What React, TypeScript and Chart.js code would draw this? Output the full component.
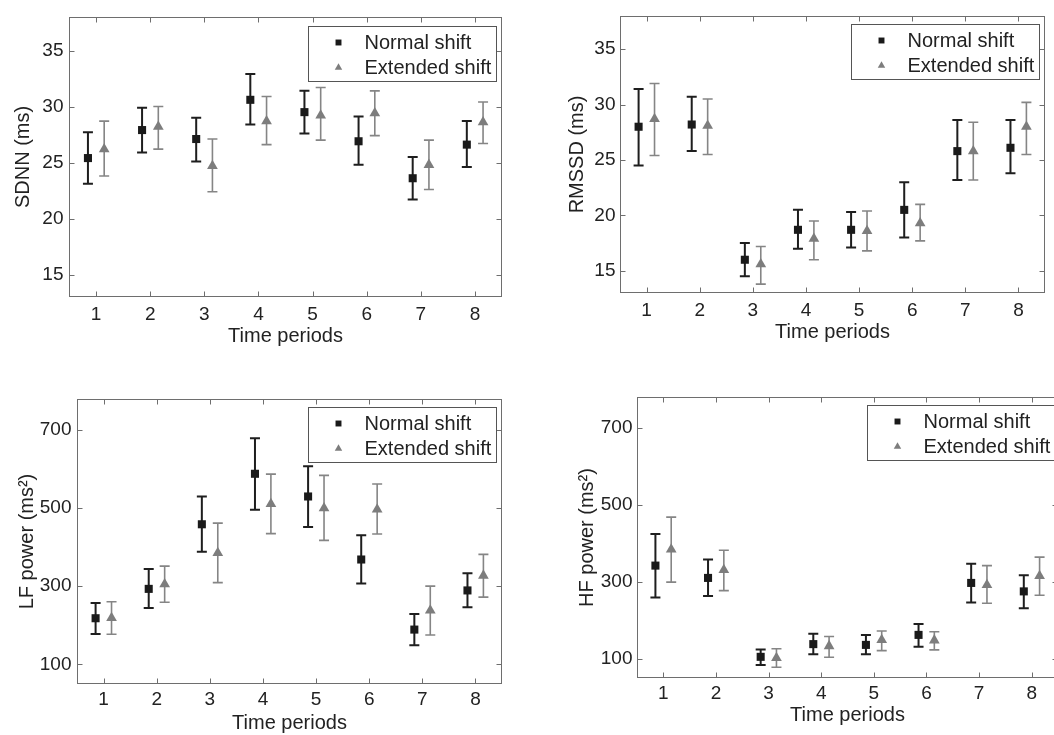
import React, { useEffect, useRef } from "react";
import { Chart, registerables } from "chart.js";
import { drawPoint } from "chart.js/helpers";

Chart.register(...registerables);

const FONT = "'Liberation Sans', Arial, Helvetica, sans-serif";
const TEXT = "#222222";
const AXIS = "#6e6e6e";

const PERIODS = [1, 2, 3, 4, 5, 6, 7, 8];
const SERIES_LABELS = ["Normal shift", "Extended shift"];
const X_TITLE = "Time periods";

// Panel A: SDNN
const SDNN_TICKS = [15, 20, 25, 30, 35];
const SDNN_NORMAL = [25.4, 27.9, 27.1, 30.6, 29.5, 26.9, 23.6, 26.6];
const SDNN_NORMAL_LOW = [23.1, 25.9, 25.1, 28.4, 27.6, 24.8, 21.7, 24.6];
const SDNN_NORMAL_HIGH = [27.7, 29.9, 29.0, 32.9, 31.4, 29.1, 25.5, 28.7];
const SDNN_EXT = [26.2, 28.2, 24.7, 28.7, 29.2, 29.4, 24.8, 28.6];
const SDNN_EXT_LOW = [23.8, 26.2, 22.4, 26.6, 27.0, 27.4, 22.6, 26.7];
const SDNN_EXT_HIGH = [28.7, 30.0, 27.1, 30.9, 31.7, 31.4, 27.0, 30.4];

// Panel B: RMSSD
const RMSSD_TICKS = [15, 20, 25, 30, 35];
const RMSSD_NORMAL = [28.0, 28.2, 16.0, 18.7, 18.7, 20.5, 25.8, 26.1];
const RMSSD_NORMAL_LOW = [24.5, 25.8, 14.5, 17.0, 17.1, 18.0, 23.2, 23.8];
const RMSSD_NORMAL_HIGH = [31.4, 30.7, 17.5, 20.5, 20.3, 23.0, 28.6, 28.6];
const RMSSD_EXT = [28.7, 28.1, 15.6, 17.9, 18.6, 19.3, 25.8, 28.0];
const RMSSD_EXT_LOW = [25.4, 25.5, 13.8, 16.0, 16.8, 17.7, 23.2, 25.5];
const RMSSD_EXT_HIGH = [31.9, 30.5, 17.2, 19.5, 20.4, 21.0, 28.4, 30.2];

// Panel C: LF power
const LF_TICKS = [100, 300, 500, 700];
const LF_NORMAL = [218, 293, 458, 587, 529, 368, 189, 289];
const LF_NORMAL_LOW = [178, 244, 388, 495, 451, 307, 149, 246];
const LF_NORMAL_HIGH = [257, 344, 529, 678, 606, 430, 229, 333];
const LF_EXT = [219, 305, 385, 510, 499, 496, 238, 327];
const LF_EXT_LOW = [177, 259, 309, 434, 417, 433, 175, 272];
const LF_EXT_HIGH = [260, 351, 461, 586, 583, 561, 300, 381];

// Panel D: HF power
const HF_TICKS = [100, 300, 500, 700];
const HF_NORMAL = [342, 310, 105, 138, 136, 162, 297, 275];
const HF_NORMAL_LOW = [259, 263, 84, 112, 112, 131, 246, 231];
const HF_NORMAL_HIGH = [424, 358, 124, 165, 162, 190, 347, 317];
const HF_EXT = [384, 331, 102, 133, 149, 148, 292, 315];
const HF_EXT_LOW = [299, 277, 78, 104, 121, 123, 244, 265];
const HF_EXT_HIGH = [468, 382, 126, 158, 172, 170, 342, 364];

const OFFSET = 0.15;
const CAP = 5;

type Panel = {
  yTitle: string;
  yMin: number;
  yMax: number;
  ticks: number[];
  normal: number[];
  normalLow: number[];
  normalHigh: number[];
  ext: number[];
  extLow: number[];
  extHigh: number[];
  left: number;
  top: number;
  w: number;
  h: number;
  padTop: number;
  padRight: number;
  yAxisW: number;
  xAxisH: number;
  yTitlePad: number;
  xTitlePad: number;
  xTickPad: number;
  yTickPad: number;
  legInsetR: number;
  legInsetT: number;
};

const PANELS: Panel[] = [
  {
    yTitle: "SDNN (ms)", yMin: 13, yMax: 38, ticks: SDNN_TICKS,
    normal: SDNN_NORMAL, normalLow: SDNN_NORMAL_LOW, normalHigh: SDNN_NORMAL_HIGH,
    ext: SDNN_EXT, extLow: SDNN_EXT_LOW, extHigh: SDNN_EXT_HIGH,
    left: 0, top: 0, w: 527, h: 360, padTop: 7, padRight: 25, yAxisW: 69, xAxisH: 63,
    yTitlePad: 11, xTitlePad: 12, xTickPad: 6.6, yTickPad: 5.5, legInsetR: 6, legInsetT: 9,
  },
  {
    yTitle: "RMSSD (ms)", yMin: 13, yMax: 38, ticks: RMSSD_TICKS,
    normal: RMSSD_NORMAL, normalLow: RMSSD_NORMAL_LOW, normalHigh: RMSSD_NORMAL_HIGH,
    ext: RMSSD_EXT, extLow: RMSSD_EXT_LOW, extHigh: RMSSD_EXT_HIGH,
    left: 527, top: 0, w: 527, h: 360, padTop: 7, padRight: 9, yAxisW: 93, xAxisH: 67,
    yTitlePad: 38, xTitlePad: 16, xTickPad: 6, yTickPad: 4.5, legInsetR: 6, legInsetT: 8.5,
  },
  {
    yTitle: "LF power (ms\u00B2)", yMin: 50, yMax: 778, ticks: LF_TICKS,
    normal: LF_NORMAL, normalLow: LF_NORMAL_LOW, normalHigh: LF_NORMAL_HIGH,
    ext: LF_EXT, extLow: LF_EXT_LOW, extHigh: LF_EXT_HIGH,
    left: 0, top: 375, w: 527, h: 360, padTop: 24, padRight: 25, yAxisW: 77, xAxisH: 51,
    yTitlePad: 15, xTitlePad: 0, xTickPad: 4.6, yTickPad: 5.5, legInsetR: 6, legInsetT: 8,
  },
  {
    yTitle: "HF power (ms\u00B2)", yMin: 50, yMax: 780, ticks: HF_TICKS,
    normal: HF_NORMAL, normalLow: HF_NORMAL_LOW, normalHigh: HF_NORMAL_HIGH,
    ext: HF_EXT, extLow: HF_EXT_LOW, extHigh: HF_EXT_HIGH,
    left: 527, top: 375, w: 541, h: 360, padTop: 22, padRight: 10, yAxisW: 110, xAxisH: 57,
    yTitlePad: 48, xTitlePad: 8, xTickPad: 4.2, yTickPad: 4.5, legInsetR: 2.6, legInsetT: 7.5,
  },
];

const NORMAL_COLOR = "#1a1a1a";
const EXT_COLOR = "#7d7d7d";
const NORMAL_BAR = "#1e1e1e";
const EXT_BAR = "#858585";

function makeDecor(p: Panel) {
  const series = [
    { low: p.normalLow, high: p.normalHigh, offset: -OFFSET, color: NORMAL_BAR, lw: 2 },
    { low: p.extLow, high: p.extHigh, offset: OFFSET, color: EXT_BAR, lw: 1.6 },
  ];
  return {
    id: "decor",
    beforeDatasetsDraw(chart: any) {
      const { ctx, scales } = chart;
      const x = scales.x;
      const y = scales.y;
      series.forEach((s) => {
        ctx.save();
        ctx.strokeStyle = s.color;
        ctx.lineWidth = s.lw;
        PERIODS.forEach((per, i) => {
          const px = x.getPixelForValue(per + s.offset);
          const lo = y.getPixelForValue(s.low[i]);
          const hi = y.getPixelForValue(s.high[i]);
          ctx.beginPath();
          ctx.moveTo(px, lo);
          ctx.lineTo(px, hi);
          ctx.moveTo(px - CAP, lo);
          ctx.lineTo(px + CAP, lo);
          ctx.moveTo(px - CAP, hi);
          ctx.lineTo(px + CAP, hi);
          ctx.stroke();
        });
        ctx.restore();
      });
    },
    afterDraw(chart: any) {
      const { ctx, chartArea, scales } = chart;
      const x = scales.x;
      const y = scales.y;
      const L = Math.round(chartArea.left) + 0.5;
      const R = Math.round(chartArea.right) - 0.5;
      const T = Math.round(chartArea.top) + 0.5;
      const B = Math.round(chartArea.bottom) - 0.5;
      ctx.save();
      ctx.strokeStyle = AXIS;
      ctx.lineWidth = 1;
      ctx.strokeRect(L, T, R - L, B - T);
      const TL = 5;
      ctx.beginPath();
      PERIODS.forEach((v) => {
        const px = Math.round(x.getPixelForValue(v)) + 0.5;
        ctx.moveTo(px, B);
        ctx.lineTo(px, B - TL);
        ctx.moveTo(px, T);
        ctx.lineTo(px, T + TL);
      });
      p.ticks.forEach((v) => {
        const py = Math.round(y.getPixelForValue(v)) + 0.5;
        ctx.moveTo(L, py);
        ctx.lineTo(L + TL, py);
        ctx.moveTo(R, py);
        ctx.lineTo(R - TL, py);
      });
      ctx.stroke();

      // legend box
      const LW = 188;
      const LH = 55;
      const bx = Math.round(chartArea.right - p.legInsetR - LW) + 0.5;
      const by = Math.round(chartArea.top + p.legInsetT) + 0.5;
      ctx.fillStyle = "#ffffff";
      ctx.fillRect(bx, by, LW, LH);
      ctx.strokeStyle = "#555555";
      ctx.strokeRect(bx, by, LW, LH);
      const rows = [
        { label: SERIES_LABELS[0], style: "rect", r: 4.2, color: NORMAL_COLOR, cy: by + 16 },
        { label: SERIES_LABELS[1], style: "triangle", r: 4.3, color: EXT_COLOR, cy: by + 41 },
      ];
      rows.forEach((row) => {
        ctx.fillStyle = row.color;
        drawPoint(ctx, { pointStyle: row.style as any, radius: row.r, rotation: 0, borderWidth: 0 } as any, bx + 30, row.cy);
        ctx.fillStyle = TEXT;
        ctx.font = `20px ${FONT}`;
        ctx.textAlign = "left";
        ctx.textBaseline = "middle";
        ctx.fillText(row.label, bx + 56, row.cy + 1);
      });
      ctx.restore();
    },
  };
}

function PanelChart({ p }: { p: Panel }) {
  const ref = useRef<HTMLCanvasElement>(null);
  useEffect(() => {
    const canvas = ref.current;
    if (!canvas) return;
    const chart = new Chart(canvas, {
      type: "scatter",
      data: {
        datasets: [
          {
            label: SERIES_LABELS[0],
            data: PERIODS.map((per, i) => ({ x: per - OFFSET, y: p.normal[i] })),
            pointStyle: "rect",
            pointRadius: 5.7,
            backgroundColor: NORMAL_COLOR,
            borderWidth: 0,
            showLine: false,
          },
          {
            label: SERIES_LABELS[1],
            data: PERIODS.map((per, i) => ({ x: per + OFFSET, y: p.ext[i] })),
            pointStyle: "triangle",
            pointRadius: 6.2,
            backgroundColor: EXT_COLOR,
            borderWidth: 0,
            showLine: false,
          },
        ],
      },
      options: {
        animation: false,
        responsive: false,
        devicePixelRatio: 1,
        layout: { padding: { top: p.padTop, right: p.padRight, left: 0, bottom: 0 } },
        plugins: { legend: { display: false }, tooltip: { enabled: false } },
        scales: {
          x: {
            type: "linear",
            min: 0.5,
            max: 8.5,
            afterBuildTicks: (s: any) => {
              s.ticks = PERIODS.map((v) => ({ value: v }));
            },
            afterFit: (s: any) => {
              s.height = p.xAxisH;
            },
            grid: { display: false, drawTicks: false },
            border: { display: false },
            ticks: {
              color: TEXT,
              font: { family: FONT, size: 19 },
              padding: p.xTickPad,
              maxRotation: 0,
              callback: (v: any) => String(v),
            },
            title: {
              display: true,
              text: X_TITLE,
              color: TEXT,
              font: { family: FONT, size: 20 },
              padding: { top: 0, bottom: p.xTitlePad },
            },
          },
          y: {
            type: "linear",
            min: p.yMin,
            max: p.yMax,
            afterBuildTicks: (s: any) => {
              s.ticks = p.ticks.map((v) => ({ value: v }));
            },
            afterFit: (s: any) => {
              s.width = p.yAxisW;
            },
            grid: { display: false, drawTicks: false },
            border: { display: false },
            ticks: {
              color: TEXT,
              font: { family: FONT, size: 19 },
              padding: p.yTickPad,
              callback: (v: any) => String(v),
            },
            title: {
              display: true,
              text: p.yTitle,
              color: TEXT,
              font: { family: FONT, size: 20 },
              padding: { top: p.yTitlePad, bottom: 0 },
            },
          },
        },
      },
      plugins: [makeDecor(p)],
    } as any);
    return () => chart.destroy();
  }, [p]);
  return (
    <canvas
      ref={ref}
      width={p.w}
      height={p.h}
      style={{ position: "absolute", left: p.left, top: p.top, width: p.w, height: p.h }}
    />
  );
}

export default function App() {
  return (
    <div
      style={{
        position: "fixed",
        left: 0,
        top: 0,
        width: 1054,
        height: 735,
        overflow: "hidden",
        background: "#ffffff",
      }}
    >
      {PANELS.map((p, i) => (
        <PanelChart key={i} p={p} />
      ))}
    </div>
  );
}
